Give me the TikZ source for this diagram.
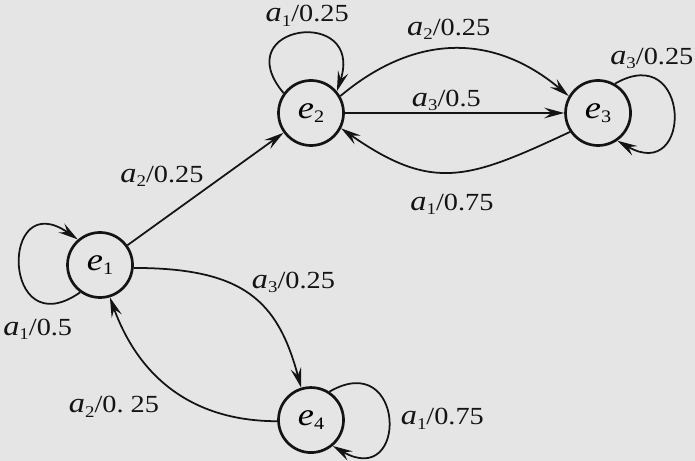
\documentclass[tikz,border=0pt]{standalone}
\usepackage{amsmath}
\usepackage{fontspec}
\setmainfont{Liberation Serif}[
  UprightFont={Liberation Serif},
  ItalicFont={Liberation Serif Italic},
  BoldFont={Liberation Serif Bold},
  FakeStretch=1.15]
\usepackage{tikz}
\usetikzlibrary{arrows.meta,positioning}

\definecolor{bggray}{RGB}{229,229,229}
\definecolor{ink}{RGB}{20,20,20}
\newcommand{\evar}[1]{{\itshape e}\raisebox{-4pt}{\fontsize{15}{15}\selectfont #1}}
\newcommand{\act}[3]{{\fontsize{24}{24}\selectfont\itshape #1}\raisebox{-4pt}{\fontsize{14}{14}\selectfont #2}/#3}

\begin{document}
\begin{tikzpicture}[
  x=0.03cm, y=0.03cm,
  st/.style={draw=ink, circle, line width=2.3pt, minimum size=1.95cm, inner sep=0pt, font=\fontsize{27}{28}\selectfont},
  arr/.style={-{Stealth[length=6mm,width=3.2mm,inset=2.2mm]}, draw=ink, line width=1.5pt},
  lab/.style={font=\fontsize{21}{24}\selectfont, inner sep=1pt, text=ink}
]
\fill[bggray] (0,0) rectangle (695,-461);
\useasboundingbox (0,0) rectangle (695,-461);

\node[st] (e1) at (100,-265) {\evar{1}};
\node[st] (e2) at (311,-113) {\evar{2}};
\node[st, right=6.58cm of e2] (e3) {\evar{3}};
\node[st, below=7.18cm of e2] (e4) {\evar{4}};

\draw[arr] (e1.234) .. controls +(215:96) and +(145:96) .. (e1.131)
  node[lab, pos=0.1, below=12pt, xshift=-18pt] {\act{a}{1}{0.5}};
\draw[arr] (e1) -- (e2) node[lab, midway, anchor=south east] {\act{a}{2}{0.25}};
\draw[arr] (e2.144) .. controls +(130:90) and +(72:90) .. (e2.40)
  node[lab, midway, above=5pt, xshift=7pt] {\act{a}{1}{0.25}};
\draw[arr] (e2.30) .. controls +(40:98) and +(140:98) .. (e3.150)
  node[lab, midway, above=6pt, xshift=-5pt] {\act{a}{2}{0.25}};
\draw[arr] (e2) -- (e3) node[lab, midway, above=0pt, xshift=-7pt] {\act{a}{3}{0.5}};
\draw[arr] (e3.214) .. controls +(205:112) and +(325:112) .. (e2.333)
  node[lab, midway, below=17pt] {\act{a}{1}{0.75}};
\draw[arr] (e3.60) .. controls +(30:88) and +(330:88) .. (e3.305)
  node[lab, pos=0.2, above=5pt] {\act{a}{3}{0.25}};
\draw[arr] (e1.355) .. controls +(0:110) and +(105:90) .. (e4.107)
  node[lab, pos=0.5, anchor=south west] {\act{a}{3}{0.25}};
\draw[arr] (e4.182) .. controls +(180:80) and +(290:90) .. (e1.287)
  node[lab, midway, below left=3pt and 12pt] {\act{a}{2}{0.\ 25}};
\draw[arr] (e4.57) .. controls +(30:88) and +(330:88) .. (e4.310)
  node[lab, midway, right=9pt] {\act{a}{1}{0.75}};
\end{tikzpicture}
\end{document}
